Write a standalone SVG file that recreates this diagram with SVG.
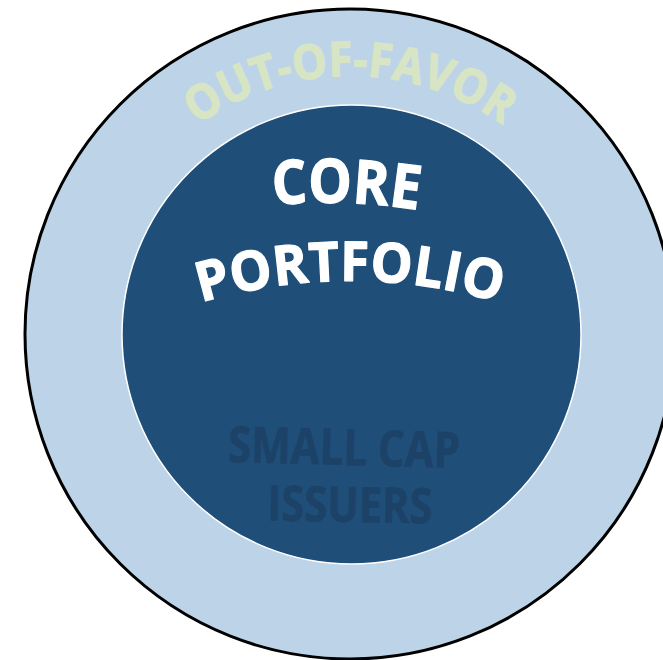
<svg xmlns="http://www.w3.org/2000/svg" width="663" height="660" viewBox="0 0 663 660">
<style>
.t{font-family:"Open Sans","Lato","Liberation Sans",sans-serif;font-weight:bold;stroke-width:1.2;stroke-linejoin:round;}
.outer{fill:#BDD4E8;stroke:#000;stroke-width:3;}
.inner{fill:#1F4E79;stroke:#FFFFFF;stroke-width:1.5;}
.w{fill:#FFFFFF;stroke:#FFFFFF;}
.g{fill:#D8E5C5;stroke:#D8E5C5;}
.d{fill:#1C4267;stroke:#1C4267;stroke-width:0.5;}
</style>
<defs>
<path id="arcOut" d="M123.1,207 A262,262 0 0 1 576.9,207"/>
<path id="arcCore" d="M46,283.4 A600,600 0 0 1 646,283.4"/>
<path id="arcPort" d="M-10,425.6 A520,520 0 0 1 710,425.6"/>
</defs>
<rect width="663" height="660" fill="#FFFFFF"/>
<g id="outer-ring">
<circle class="outer" cx="350" cy="334" r="325"/>
<text class="t g" font-size="48" text-anchor="middle"><textPath href="#arcOut" startOffset="50%" textLength="326" lengthAdjust="spacingAndGlyphs">OUT-OF-FAVOR</textPath></text>
</g>
<g id="core">
<circle class="inner" cx="351.5" cy="334.5" r="229.5"/>
<text class="t w" font-size="61" text-anchor="middle" transform="rotate(2 344 200)"><textPath href="#arcCore" startOffset="50%" textLength="146" lengthAdjust="spacingAndGlyphs">CORE</textPath></text>
<text class="t w" font-size="55" text-anchor="middle"><textPath href="#arcPort" startOffset="50%" textLength="302" lengthAdjust="spacingAndGlyphs">PORTFOLIO</textPath></text>
</g>
<g id="small-cap">
<text class="t d" font-size="50" text-anchor="middle" x="344" y="465" textLength="232" lengthAdjust="spacingAndGlyphs" transform="rotate(1.5 344 450)">SMALL CAP</text>
<text class="t d" font-size="49" text-anchor="middle" x="350" y="522" textLength="165" lengthAdjust="spacingAndGlyphs" transform="rotate(1 350 505)">ISSUERS</text>
</g>
</svg>
